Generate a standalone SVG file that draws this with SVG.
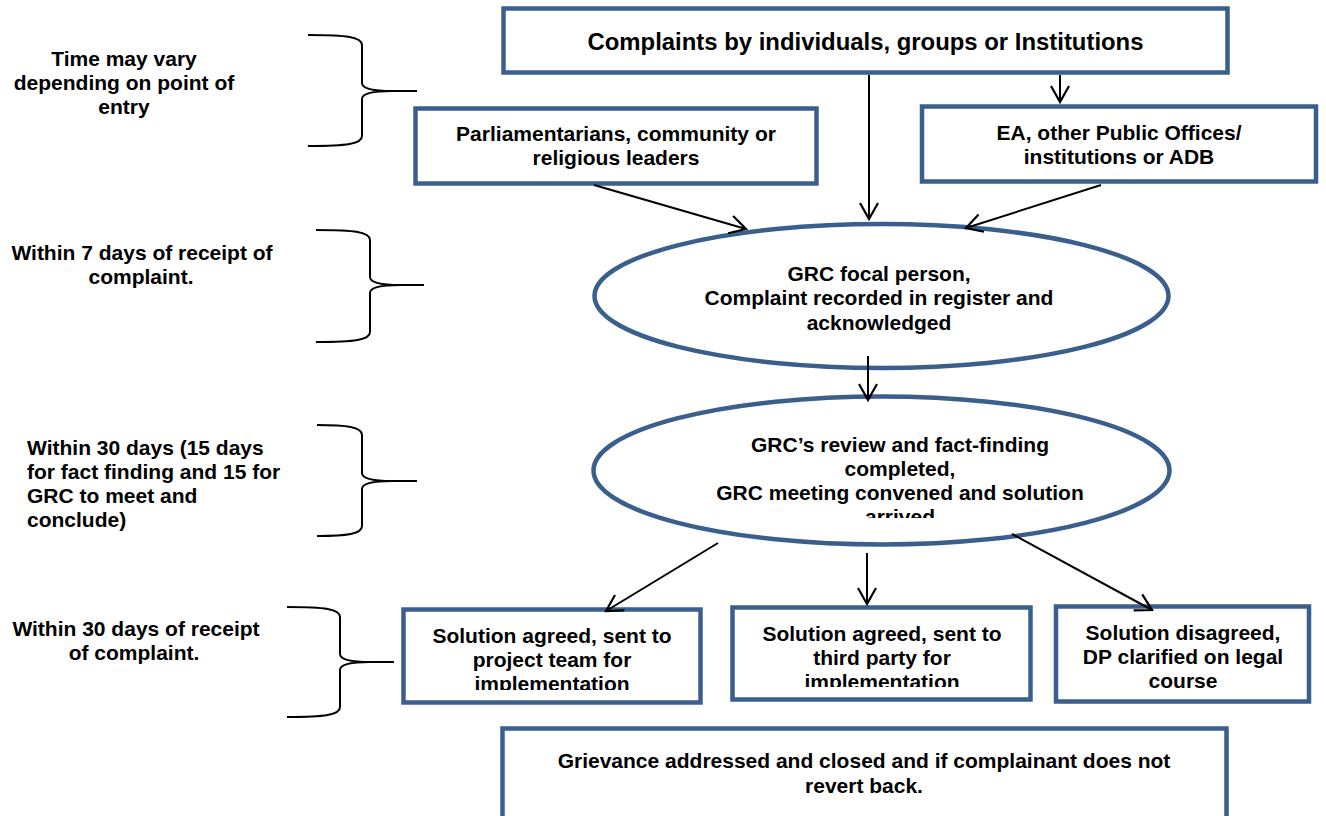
<svg xmlns="http://www.w3.org/2000/svg" width="1326" height="816" viewBox="0 0 1326 816">
<style>
.box{fill:#fff;stroke:#3b5f8c;stroke-width:4.5}
.t{font-family:"Liberation Sans",Arial,sans-serif;font-weight:bold;font-size:21px;fill:#000;text-anchor:middle}
.tl{text-anchor:start}
.brace{fill:none;stroke:#000;stroke-width:2}
.conn{fill:none;stroke:#000;stroke-width:2}
</style>
<defs>
<marker id="arr" markerUnits="userSpaceOnUse" markerWidth="22" markerHeight="22" refX="17" refY="9" orient="auto" overflow="visible">
<path d="M1,0 L17,9 L1,18" fill="none" stroke="#000" stroke-width="2.2"/>
</marker>
<clipPath id="clipE2"><rect x="590" y="380" width="600" height="138"/></clipPath>
<clipPath id="clipA"><rect x="400" y="600" width="305" height="90"/></clipPath>
<clipPath id="clipB"><rect x="730" y="600" width="305" height="87"/></clipPath>
</defs>
<rect width="1326" height="816" fill="#fff"/>

<g id="labels">
<text class="t" x="124" y="66">Time may vary</text>
<text class="t" x="124" y="90">depending on point of</text>
<text class="t" x="124" y="114">entry</text>
<text class="t" x="142" y="260">Within 7 days of receipt of</text>
<text class="t" x="141" y="284">complaint.</text>
<text class="t tl" x="27" y="455">Within 30 days (15 days</text>
<text class="t tl" x="27" y="479">for fact finding and 15 for</text>
<text class="t tl" x="27" y="503">GRC to meet and</text>
<text class="t tl" x="27" y="527">conclude)</text>
<text class="t" x="136" y="636">Within 30 days of receipt</text>
<text class="t" x="134" y="660">of complaint.</text>
</g>

<g id="braces">
<path class="brace" d="M308,35 C347,35 362,37 362,45 L362,83 C362,89 374,91 392,91 L417,91 M417,91 L392,91 C374,91 362,93 362,99 L362,136 C362,144 347,146 308,146"/>
<path class="brace" d="M316,230 C355,230 370,232 370,240 L370,277 C370,283 382,285 400,285 L424,285 M424,285 L400,285 C382,285 370,287 370,293 L370,332 C370,340 355,342 316,342"/>
<path class="brace" d="M317,425 C347,425 362,427 362,435 L362,473 C362,479 374,481 392,481 L417,481 M417,481 L392,481 C374,481 362,483 362,489 L362,526 C362,534 347,536 317,536"/>
<path class="brace" d="M287,607 C325,607 340,609 340,617 L340,654 C340,660 352,662 370,662 L394,662 M394,662 L370,662 C352,662 340,664 340,670 L340,707 C340,715 325,717 287,717"/>
</g>

<g id="complaints">
<rect class="box" x="503.5" y="8.5" width="724" height="64"/>
<text class="t" x="865.5" y="50" style="font-size:23px" textLength="556" lengthAdjust="spacingAndGlyphs">Complaints by individuals, groups or Institutions</text>
</g>

<g id="parliamentarians">
<rect class="box" x="415.5" y="108.5" width="401" height="75"/>
<text class="t" x="616" y="141">Parliamentarians, community or</text>
<text class="t" x="616" y="165">religious leaders</text>
</g>

<g id="ea">
<rect class="box" x="922" y="106.5" width="394" height="75"/>
<text class="t" x="1119" y="140">EA, other Public Offices/</text>
<text class="t" x="1119" y="164">institutions or ADB</text>
</g>

<g id="grc-focal">
<ellipse class="box" cx="881.5" cy="296" rx="287" ry="72"/>
<text class="t" x="879" y="281">GRC focal person,</text>
<text class="t" x="879" y="305">Complaint recorded in register and</text>
<text class="t" x="879" y="330">acknowledged</text>
</g>

<g id="grc-review">
<ellipse class="box" cx="881.5" cy="470.5" rx="288" ry="74"/>
<g clip-path="url(#clipE2)">
<text class="t" x="900" y="452">GRC’s review and fact-finding</text>
<text class="t" x="900" y="476">completed,</text>
<text class="t" x="900" y="500">GRC meeting convened and solution</text>
<text class="t" x="900" y="524">arrived</text>
</g>
</g>

<g id="project-team">
<rect class="box" x="403.5" y="609.5" width="297" height="93"/>
<g clip-path="url(#clipA)">
<text class="t" x="552" y="643">Solution agreed, sent to</text>
<text class="t" x="552" y="667">project team for</text>
<text class="t" x="552" y="691">implementation</text>
</g>
</g>

<g id="third-party">
<rect class="box" x="732.5" y="607.5" width="298" height="92"/>
<g clip-path="url(#clipB)">
<text class="t" x="882" y="641">Solution agreed, sent to</text>
<text class="t" x="882" y="665">third party for</text>
<text class="t" x="882" y="689">implementation</text>
</g>
</g>

<g id="disagreed">
<rect class="box" x="1056" y="606.5" width="253" height="95"/>
<text class="t" x="1183" y="640">Solution disagreed,</text>
<text class="t" x="1183" y="664">DP clarified on legal</text>
<text class="t" x="1183" y="688">course</text>
</g>

<g id="closed">
<rect class="box" x="502.5" y="728.5" width="724" height="95"/>
<text class="t" x="864" y="768">Grievance addressed and closed and if complainant does not</text>
<text class="t" x="864" y="793">revert back.</text>
</g>

<g id="connectors">
<line class="conn" x1="869" y1="75" x2="869" y2="219" marker-end="url(#arr)"/>
<line class="conn" x1="1060" y1="75" x2="1060" y2="102" marker-end="url(#arr)"/>
<line class="conn" x1="594" y1="185" x2="746" y2="229" marker-end="url(#arr)"/>
<line class="conn" x1="1101" y1="185" x2="966" y2="228" marker-end="url(#arr)"/>
<line class="conn" x1="868" y1="356" x2="868" y2="400" marker-end="url(#arr)"/>
<line class="conn" x1="718" y1="543" x2="606" y2="611" marker-end="url(#arr)"/>
<line class="conn" x1="867" y1="553" x2="867" y2="604" marker-end="url(#arr)"/>
<line class="conn" x1="1012" y1="534" x2="1152" y2="610" marker-end="url(#arr)"/>
</g>
</svg>
